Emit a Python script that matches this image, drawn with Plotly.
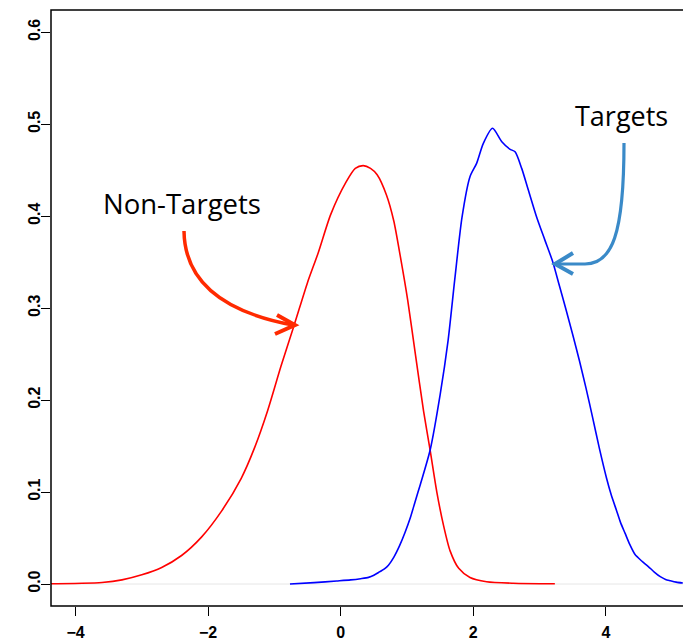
import plotly.graph_objects as go

# ---- data ----
nontarget_x = [-4.37, -3.9, -3.6, -3.3, -3.0, -2.7, -2.4, -2.1, -1.8, -1.5, -1.3, -1.1, -0.9,
               -0.7, -0.5, -0.34, -0.15, 0.08, 0.22, 0.34, 0.45, 0.55, 0.69, 0.8, 0.9, 1.01,
               1.13, 1.25, 1.35, 1.45, 1.55, 1.65, 1.78, 1.95, 2.2, 2.6, 3.23]
nontarget_y = [0.0003, 0.0008, 0.0017, 0.0045, 0.010, 0.018, 0.031, 0.051, 0.079, 0.115, 0.148,
               0.189, 0.237, 0.282, 0.328, 0.360, 0.402, 0.437, 0.452, 0.455, 0.452, 0.445,
               0.423, 0.395, 0.356, 0.309, 0.248, 0.188, 0.145, 0.100, 0.064, 0.036, 0.017,
               0.007, 0.0025, 0.0008, 0.0002]

target_x = [-0.765, -0.4, -0.06, 0.15, 0.3, 0.42, 0.5, 0.59, 0.66, 0.72, 0.8, 0.89, 0.97, 1.05,
            1.12, 1.2, 1.35, 1.5, 1.62, 1.72, 1.83, 1.95, 2.05, 2.15, 2.29, 2.43, 2.55, 2.63,
            2.73, 2.83, 2.96, 3.08, 3.2, 3.3, 3.4, 3.5, 3.6, 3.7, 3.8, 3.9, 4.01, 4.08, 4.16,
            4.22, 4.29, 4.36, 4.44, 4.54, 4.64, 4.73, 4.82, 4.9, 4.97, 5.06, 5.16]
target_y = [0.0, 0.0015, 0.0033, 0.0045, 0.0058, 0.0072, 0.0095, 0.0134, 0.0165, 0.0205, 0.029,
            0.042, 0.056, 0.072, 0.089, 0.108, 0.146, 0.206, 0.265, 0.331, 0.399, 0.443,
            0.4575, 0.479, 0.4956, 0.481, 0.473, 0.470, 0.452, 0.4285, 0.398, 0.374, 0.350,
            0.324, 0.298, 0.271, 0.243, 0.213, 0.181, 0.148, 0.115, 0.097, 0.080, 0.067,
            0.055, 0.043, 0.032, 0.025, 0.019, 0.013, 0.008, 0.005, 0.0036, 0.002, 0.001]

x_ticks = [-4, -2, 0, 2, 4]
y_ticks = [0.0, 0.1, 0.2, 0.3, 0.4, 0.5, 0.6]
y_ticktext = ["0.0", "0.1", "0.2", "0.3", "0.4", "0.5", "0.6"]

label_nontarget = "Non-Targets"
label_target = "Targets"

# ---- layout geometry ----
W, H = 683, 640
ML, MR, MT, MB = 51, 0, 10, 34
X0_PX, X_UNIT = 340.7, 66.3      # pixel of x=0, pixels per x unit
Y0_PX, Y_UNIT = 584.0, 919.5     # pixel of y=0, pixels per y unit
x_range = [(ML - X0_PX) / X_UNIT, (W - MR - X0_PX) / X_UNIT]
y_range = [(Y0_PX - (H - MB)) / Y_UNIT, (Y0_PX - MT) / Y_UNIT]


def dx(px):
    return (px - X0_PX) / X_UNIT


def dy(py):
    return (Y0_PX - py) / Y_UNIT


def pth(cmds):
    out = []
    for c in cmds:
        if isinstance(c, str):
            out.append(c)
        else:
            out.append(f"{dx(c[0]):.4f},{dy(c[1]):.5f}")
    return " ".join(out)


fig = go.Figure()
fig.add_trace(go.Scatter(x=nontarget_x, y=nontarget_y, mode="lines",
                         line=dict(color="#ff0000", width=1.6, shape="spline", smoothing=0.7),
                         showlegend=False, hoverinfo="skip"))
fig.add_trace(go.Scatter(x=target_x, y=target_y, mode="lines",
                         line=dict(color="#0000ff", width=1.6, shape="spline", smoothing=0.7),
                         showlegend=False, hoverinfo="skip"))

red_arrow = "#ff2a00"
blue_arrow = "#3a8ac8"
shapes = [
    # faint zero line
    dict(type="line", xref="paper", yref="y", x0=0, x1=1, y0=0, y1=0,
         line=dict(color="#e6e6e6", width=1), layer="below"),
    # box (right side clipped by the page)
    dict(type="rect", xref="paper", yref="paper", x0=0, x1=1.05, y0=0, y1=1,
         line=dict(color="black", width=1.5), layer="above"),
    # red curved arrow
    dict(type="path", xref="x", yref="y",
         path=pth(["M", (184, 231), "Q", (185, 305), (293, 325)]),
         line=dict(color=red_arrow, width=3.5)),
    dict(type="path", xref="x", yref="y",
         path=pth(["M", (277, 315), "L", (295, 325), "L", (275, 334)]),
         line=dict(color=red_arrow, width=4)),
    # blue curved arrow
    dict(type="path", xref="x", yref="y",
         path=pth(["M", (624, 143), "C", (624, 235), (612, 264), (585, 264), "L", (557, 264)]),
         line=dict(color=blue_arrow, width=3.2)),
    dict(type="path", xref="x", yref="y",
         path=pth(["M", (573, 253), "L", (555, 264), "L", (573, 274)]),
         line=dict(color=blue_arrow, width=4)),
]

annotations = [
    dict(text=label_nontarget, xref="x", yref="y", x=dx(182), y=dy(203),
         showarrow=False, xanchor="center", yanchor="middle",
         font=dict(family="Open Sans", size=27.5, color="black")),
    dict(text=label_target, xref="x", yref="y", x=dx(621.5), y=dy(115),
         showarrow=False, xanchor="center", yanchor="middle",
         font=dict(family="Open Sans", size=27, color="black")),
]

tickfont = dict(family="Liberation Sans, Arial", size=16, color="black", weight="bold")
fig.update_layout(
    width=W, height=H,
    margin=dict(l=ML, r=MR, t=MT, b=MB, pad=0),
    paper_bgcolor="white", plot_bgcolor="white",
    shapes=shapes, annotations=annotations,
    xaxis=dict(range=x_range, tickvals=x_ticks, ticks="outside", ticklen=9, tickwidth=1.3,
               tickcolor="black", showgrid=False, zeroline=False, showline=False,
               tickfont=tickfont, fixedrange=True, ticklabelstandoff=3),
    yaxis=dict(range=y_range, tickvals=y_ticks, ticktext=y_ticktext, ticks="outside",
               ticklen=9, tickwidth=1.3, tickcolor="black", showgrid=False, zeroline=False,
               showline=False, tickangle=-90, tickfont=tickfont, fixedrange=True,
               ticklabelstandoff=-5),
)

fig.write_html("out.html", config={"displayModeBar": False})
